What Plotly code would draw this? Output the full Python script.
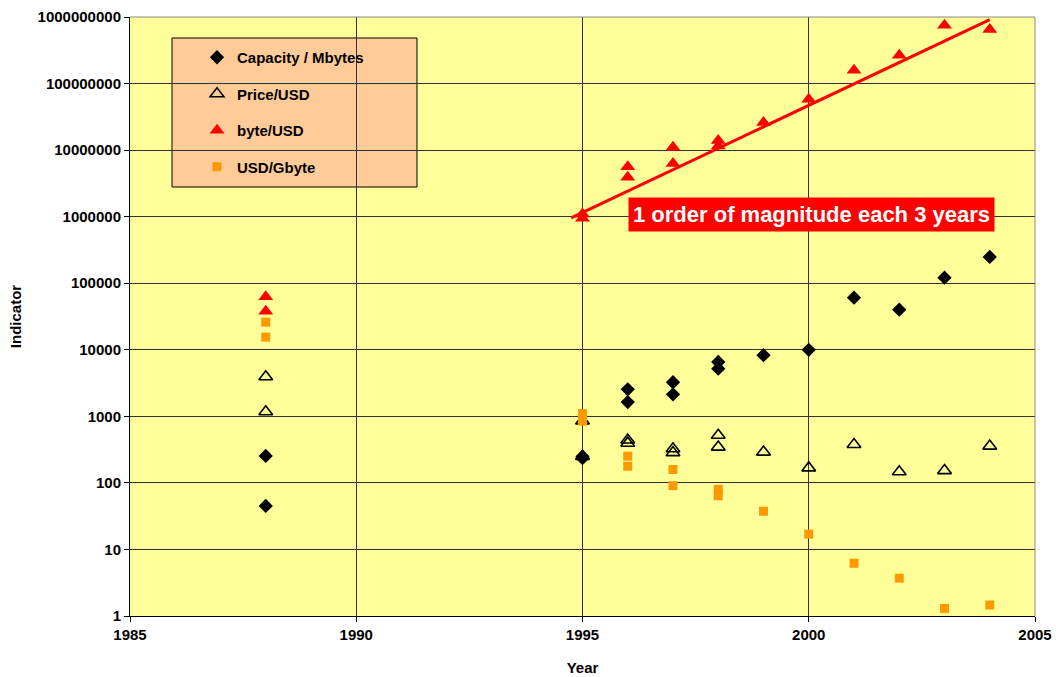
import plotly.graph_objects as go
import math

# Disk drive indicators by year
cap_years = [1988, 1988, 1995, 1995, 1996, 1996, 1997, 1997, 1998, 1998, 1999, 2000, 2001, 2002, 2003, 2004]
cap_mbytes = [254, 45, 250, 235, 2550, 1640, 3250, 2140, 6550, 5200, 8300, 10000, 60700, 40000, 121000, 248000]

price_years = [1988, 1988, 1995, 1995, 1996, 1996, 1997, 1997, 1998, 1998, 1999, 2000, 2001, 2002, 2003, 2004]
price_usd = [3940, 1170, 850, 250, 440, 395, 325, 285, 520, 345, 290, 168, 378, 147, 153, 357]

bpu_years = [1988, 1988, 1995, 1995, 1996, 1996, 1997, 1997, 1998, 1998, 1999, 2000, 2001, 2002, 2003, 2004]
bytes_per_usd = [62500, 38000, 1100000, 950000, 5600000, 3900000, 11000000, 6300000, 14000000, 11500000,
                 26000000, 58000000, 158000000, 266000000, 750000000, 650000000]

upg_years = [1988, 1988, 1995, 1995, 1996, 1996, 1997, 1997, 1998, 1998, 1999, 2000, 2001, 2002, 2003, 2004]
usd_per_gbyte = [26000, 15500, 1100, 850, 252, 178, 159, 91, 80, 64, 37.5, 17, 6.2, 3.7, 1.3, 1.46]

# Trend: one order of magnitude every 3 years
trend_years = [1994.75, 2004.0]
trend_values = [960000, 910000000]

ytick_vals = [1, 10, 100, 1000, 10000, 100000, 1000000, 10000000, 100000000, 1000000000]
ytick_text = [str(v) for v in ytick_vals]

FONT = "Liberation Sans, Arial, sans-serif"

fig = go.Figure()

fig.add_trace(go.Scatter(
    x=trend_years, y=trend_values, mode="lines",
    line=dict(color="#FF0000", width=3), showlegend=False, hoverinfo="skip"))

fig.add_trace(go.Scatter(
    x=cap_years, y=cap_mbytes, mode="markers", name="Capacity / Mbytes",
    legendgroup="a",
    marker=dict(symbol="diamond", size=11, color="black")))

fig.add_trace(go.Scatter(
    x=price_years, y=price_usd, mode="markers", name="Price/USD",
    legendgroup="b",
    marker=dict(symbol="triangle-up-open", size=12, color="black", line=dict(width=1.6))))

fig.add_trace(go.Scatter(
    x=bpu_years, y=bytes_per_usd, mode="markers", name="byte/USD",
    legendgroup="c",
    marker=dict(symbol="triangle-up", size=13, color="#FF0000")))

fig.add_trace(go.Scatter(
    x=upg_years, y=usd_per_gbyte, mode="markers", name="USD/Gbyte",
    legendgroup="d",
    marker=dict(symbol="square", size=9, color="#FF9900")))

# Legend panel background
fig.add_shape(type="rect", xref="paper", yref="paper",
              x0=(172 - 130) / 905, x1=(417 - 130) / 905,
              y0=1 - (187 - 17) / 599, y1=1 - (38 - 17) / 599,
              fillcolor="#FFCC99", line=dict(color="black", width=1), layer="between")

fig.add_annotation(
    x=2000.05, y=math.log10(1060000), xref="x", yref="y",
    text="<b>1 order of magnitude each 3 years</b>", showarrow=False,
    font=dict(family=FONT, size=22, color="white"),
    bgcolor="#FF0000", borderpad=4)

fig.update_layout(
    width=1056, height=677,
    margin=dict(l=130, r=21, t=17, b=61),
    paper_bgcolor="white",
    plot_bgcolor="#FFFF99",
    font=dict(family=FONT, size=15, color="black"),
    showlegend=True,
    legend=dict(
        x=(197 - 130) / 905, y=1 - (41 - 17) / 599, xanchor="left", yanchor="top",
        bgcolor="rgba(0,0,0,0)", borderwidth=0,
        tracegroupgap=14,
        font=dict(family=FONT, size=15, color="black", weight="bold")),
    xaxis=dict(
        range=[1985, 2005], tickmode="array", tickvals=[1985, 1990, 1995, 2000, 2005],
        ticks="outside", ticklen=5, tickcolor="black",
        showgrid=True, gridcolor="#333333", gridwidth=1,
        showline=True, linecolor="black", linewidth=1, mirror=False,
        zeroline=False, automargin=False,
        tickfont=dict(family=FONT, size=15, weight="bold"),
        title=dict(text="<b>Year</b>", font=dict(family=FONT, size=15), standoff=20)),
    yaxis=dict(
        type="log", range=[0, 9], tickmode="array", tickvals=ytick_vals, ticktext=ytick_text,
        ticks="outside", ticklen=5, tickcolor="black",
        showgrid=True, gridcolor="#333333", gridwidth=1,
        showline=True, linecolor="black", linewidth=1,
        zeroline=False, automargin=False,
        tickfont=dict(family=FONT, size=15, weight="bold"),
        title=dict(text="<b>Indicator</b>", font=dict(family=FONT, size=15), standoff=12)),
)

# Grey frame on the top and right edges of the plot area
fig.add_shape(type="line", xref="paper", yref="paper", x0=0, x1=1, y0=1, y1=1,
              line=dict(color="#888888", width=1))
fig.add_shape(type="line", xref="paper", yref="paper", x0=1, x1=1, y0=0, y1=1,
              line=dict(color="#888888", width=1))

fig.write_html("out.html")
